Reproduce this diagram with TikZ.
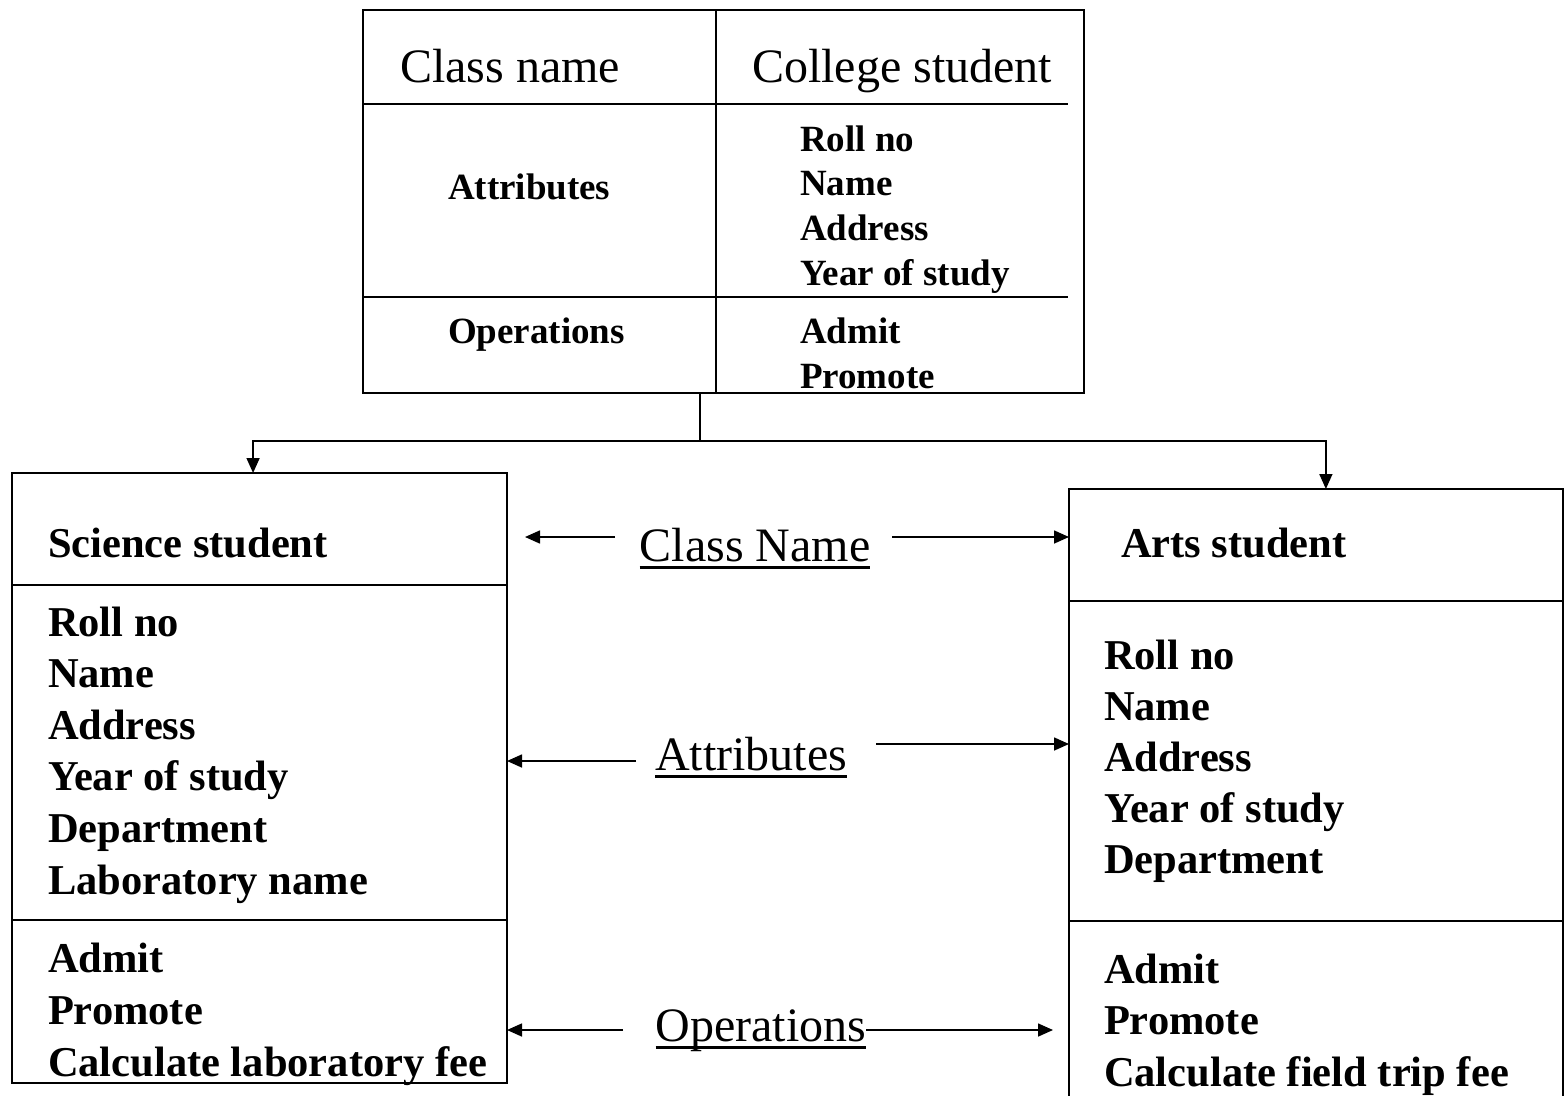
\documentclass[tikz,border=0pt]{standalone}
\usepackage{fontspec}
\setmainfont{Liberation Serif}
\usetikzlibrary{arrows.meta,calc}
\begin{document}
\begin{tikzpicture}[x=1pt,y=-1pt,
  line width=1.6pt,
  box/.style={draw, rectangle, inner sep=0pt, outer sep=0pt},
  sep/.style={line width=1.6pt},
  arr/.style={-{Triangle[length=15pt,width=13pt]}, line width=1.6pt},
  ul/.style={line width=2.4pt},
  txt/.style={inner sep=0pt, outer sep=0pt, anchor=base west},
  reg/.style={txt, font=\fontsize{48}{56}\selectfont},
  bt/.style={txt, font=\fontsize{42.5}{51}\selectfont\bfseries},
  bs/.style={txt, font=\fontsize{37}{45}\selectfont\bfseries}]
\useasboundingbox (0,0) rectangle (1568,1095);

% ---------- top class box ----------
\node[box, minimum width=721pt, minimum height=383pt] (cs) at (723.5,201.5) {};
\draw[sep] (716,10) -- (716,393);
\draw[sep] (cs.west |- 0,104) -- (1068,104);
\draw[sep] (cs.west |- 0,297) -- (1068,297);
\node[reg] (t1) at (400,82) {Class name};
\node[reg] (t2) at (752,82) {College student};
\node[bs] (t3) at (448,199) {Attributes};
\node[bs] (t4) at (448,343) {Operations};
\foreach \t [count=\i] in {Roll no, Name, Address, Year of study}
  \node[bs] (ta\i) at (800,{151+44.7*(\i-1)}) {\t};
\node[bs] (to1) at (800,343) {Admit};
\node[bs] (to2) at (800,388) {Promote};

% ---------- science student box ----------
\node[box, minimum width=495pt, minimum height=610pt] (sci) at (259.5,778) {};
\draw[sep] (sci.west |- 0,585) -- (sci.east |- 0,585);
\draw[sep] (sci.west |- 0,920) -- (sci.east |- 0,920);
\node[bt] (sn) at (48,557) {Science student};
\foreach \t [count=\i] in {Roll no, Name, Address, Year of study, Department, Laboratory name}
  \node[bt] (sa\i) at (48,{636+51.6*(\i-1)}) {\t};
\foreach \t [count=\i] in {Admit, Promote, Calculate laboratory fee}
  \node[bt] (so\i) at (48,{972+52*(\i-1)}) {\t};

% ---------- arts student box ----------
\node[box, minimum width=494pt, minimum height=611pt] (arts) at (1316,794.5) {};
\draw[sep] (arts.west |- 0,601) -- (arts.east |- 0,601);
\draw[sep] (arts.west |- 0,921) -- (arts.east |- 0,921);
\node[bt] (an) at (1121,557) {Arts student};
\foreach \t [count=\i] in {Roll no, Name, Address, Year of study, Department}
  \node[bt] (aa\i) at (1104,{669+51.2*(\i-1)}) {\t};
\foreach \t [count=\i] in {Admit, Promote, Calculate field trip fee}
  \node[bt] (ao\i) at (1104,{983+51.5*(\i-1)}) {\t};

% ---------- generalisation connector ----------
\coordinate (j) at (700,441);
\draw (cs.south -| j) -- (j);
\draw[arr] (j) -| ($(sci.north west)!0.487!(sci.north east)$);
\draw[arr] (j) -| ($(arts.north west)!0.520!(arts.north east)$);

% ---------- middle labels ----------
\node[reg, anchor=base] (lcn) at (755,561) {Class Name};
\node[reg, anchor=base] (lat) at (751,770) {Attributes};
\node[reg, anchor=base] (lop) at (761,1041) {Operations};
\foreach \n in {lcn,lat,lop}
  \draw[ul] ([yshift=-6.5pt]\n.base west) -- ([yshift=-6.5pt]\n.base east);

\coordinate (cnl) at (615,537);  \coordinate (cnlt) at (525,537);
\coordinate (cnr) at (892,537);
\coordinate (atl) at (636,761);
\coordinate (atr) at (876,744);
\coordinate (opl) at (623,1030);
\coordinate (opr) at (866,1030);  \coordinate (oprt) at (1053,1030);
\draw[arr] (cnl) -- (cnlt);
\draw[arr] (cnr) -- (cnr -| arts.west);
\draw[arr] (atl) -- (atl -| sci.east);
\draw[arr] (atr) -- (atr -| arts.west);
\draw[arr] (opl) -- (opl -| sci.east);
\draw[arr] (opr) -- (oprt);
\end{tikzpicture}
\end{document}
